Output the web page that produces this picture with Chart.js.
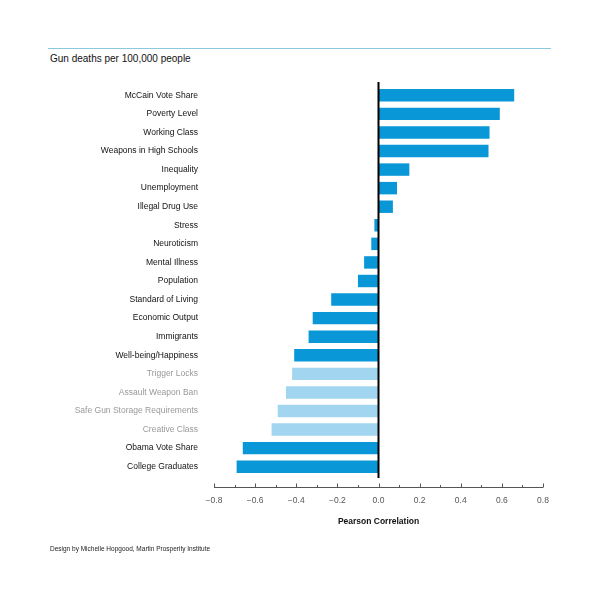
<!DOCTYPE html>
<html>
<head>
<meta charset="utf-8">
<script src="https://cdn.jsdelivr.net/npm/chart.js@4.4.1/dist/chart.umd.min.js"></script>
<style>
  body { margin: 0; background: #fff; }
  #wrap { position: relative; width: 600px; height: 600px; font-family: "Liberation Sans", Arial, sans-serif; }
  #topline { position: absolute; left: 48px; top: 48px; width: 503px; height: 1px; background: #8cc9df; }
  #title { position: absolute; left: 50px; top: 53px; font-size: 10px; color: #111; }
  #footer { position: absolute; left: 50px; top: 545px; font-size: 6.5px; color: #222; }
  #box { position: absolute; left: 0; top: 0; width: 600px; height: 600px; }
</style>
</head>
<body>
<div id="wrap">
  <div id="topline"></div>
  <div id="title">Gun deaths per 100,000 people</div>
  <div id="box"><canvas id="barChart"></canvas></div>
  <div id="footer">Design by Michelle Hopgood, Martin Prosperity Institute</div>
</div>
<script>
// categories, top to bottom
const categories = [
  "McCain Vote Share", "Poverty Level", "Working Class", "Weapons in High Schools",
  "Inequality", "Unemployment", "Illegal Drug Use", "Stress", "Neuroticism",
  "Mental Illness", "Population", "Standard of Living", "Economic Output",
  "Immigrants", "Well-being/Happiness", "Trigger Locks", "Assault Weapon Ban",
  "Safe Gun Storage Requirements", "Creative Class", "Obama Vote Share", "College Graduates"
];

// Pearson correlation with gun deaths
const correlations = [
  0.66, 0.59, 0.54, 0.535,
  0.15, 0.09, 0.07, -0.02, -0.035,
  -0.07, -0.10, -0.23, -0.32,
  -0.34, -0.41, -0.42, -0.45,
  -0.49, -0.52, -0.66, -0.69
];

// these ones are drawn pale (gun law items + creative class)
const paleItems = ["Trigger Locks", "Assault Weapon Ban", "Safe Gun Storage Requirements", "Creative Class"];

const xTicks = [-0.8, -0.6, -0.4, -0.2, 0.0, 0.2, 0.4, 0.6, 0.8];

const DARK = "#0a97d8";
const PALE = "#a2d5ef";

function fmt(v) {
  return v.toFixed(1).replace("-", "\u2212");
}

// zero line on top of bars + axis line with minor ticks below the plot
const axisPlugin = {
  id: "axisPlugin",
  afterDatasetsDraw(chart) {
    const ctx = chart.ctx;
    const x = chart.scales.x;
    const x0 = x.getPixelForValue(0);
    ctx.save();
    ctx.strokeStyle = "#000";
    ctx.lineWidth = 2;
    ctx.beginPath();
    ctx.moveTo(x0, 82);
    ctx.lineTo(x0, 478);
    ctx.stroke();

    const ay = 487.5;
    ctx.strokeStyle = "#555";
    ctx.lineWidth = 1;
    ctx.beginPath();
    ctx.moveTo(x.getPixelForValue(xTicks[0]), ay);
    ctx.lineTo(x.getPixelForValue(xTicks[xTicks.length - 1]), ay);
    for (let i = 0; i < xTicks.length; i++) {
      const px = Math.round(x.getPixelForValue(xTicks[i])) + 0.5;
      ctx.moveTo(px, ay - 4);
      ctx.lineTo(px, ay);
      if (i < xTicks.length - 1) {
        const mx = Math.round(x.getPixelForValue((xTicks[i] + xTicks[i + 1]) / 2)) + 0.5;
        ctx.moveTo(mx, ay - 2.5);
        ctx.lineTo(mx, ay);
      }
    }
    ctx.stroke();
    ctx.restore();
  },
};

const ctx = document.getElementById("barChart").getContext("2d");

new Chart(ctx, {
  type: "bar",
  data: {
    labels: categories,
    datasets: [
      {
        data: correlations,
        backgroundColor: categories.map((c) => (paleItems.includes(c) ? PALE : DARK)),
        barPercentage: 0.67,
        categoryPercentage: 1,
      },
    ],
  },
  options: {
    indexAxis: "y",
    responsive: true,
    maintainAspectRatio: false,
    animation: false,
    layout: { padding: { top: 86, right: 57, bottom: 0, left: 0 } },
    scales: {
      x: {
        min: -0.8,
        max: 0.8,
        grid: { display: false, drawTicks: false },
        border: { display: false },
        ticks: {
          stepSize: 0.2,
          padding: 20,
          color: "#555",
          font: { family: "Liberation Sans", size: 8.5 },
          callback: (v) => fmt(v),
        },
        title: {
          display: true,
          text: "Pearson Correlation",
          color: "#111",
          font: { family: "Liberation Sans", size: 8.5, weight: "bold" },
          padding: { top: 0, bottom: 73 },
        },
        afterFit: (scale) => {
          scale.height = 124;
        },
      },
      y: {
        grid: { display: false, drawTicks: false },
        border: { display: false },
        ticks: {
          padding: 16,
          autoSkip: false,
          color: (c) => (paleItems.includes(categories[c.index]) ? "#999" : "#111"),
          font: { family: "Liberation Sans", size: 8.5 },
        },
        afterFit: (scale) => {
          scale.width = 214;
        },
      },
    },
    plugins: {
      legend: { display: false },
      tooltip: { enabled: false },
    },
  },
  plugins: [axisPlugin],
});
</script>
</body>
</html>
